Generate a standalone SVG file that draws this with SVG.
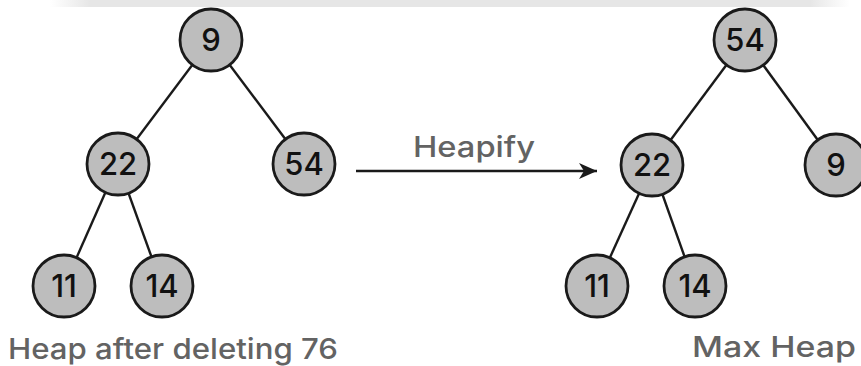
<svg xmlns="http://www.w3.org/2000/svg" width="861" height="366" viewBox="0 0 861 366">
  <style>
    .node circle { fill: #bdbdbd; stroke: #1a1a1a; stroke-width: 2.8; }
    .node text { font-family: Inter, "Open Sans", "Liberation Sans", sans-serif; font-weight: 500; font-size: 31px; fill: #111; text-anchor: middle; }
    .edge { stroke: #1a1a1a; stroke-width: 2.4; fill: none; }
    .label { font-family: Inter, "Open Sans", "Liberation Sans", sans-serif; font-weight: 500; font-size: 29px; fill: #636363; }
  </style>
  <defs>
    <marker id="arrowhead" markerWidth="18" markerHeight="16" refX="18" refY="8" orient="auto" markerUnits="userSpaceOnUse" viewBox="0 0 18 16">
      <path d="M0,0 L18,8 L0,16 L5,8 Z" fill="#1a1a1a"/>
    </marker>
    <linearGradient id="band" x1="0" y1="0" x2="1" y2="0">
      <stop offset="0" stop-color="#e8e8e8" stop-opacity="0"/>
      <stop offset="0.05" stop-color="#e6e6e6"/>
      <stop offset="0.95" stop-color="#e6e6e6"/>
      <stop offset="1" stop-color="#e8e8e8" stop-opacity="0"/>
    </linearGradient>
  </defs>
  <rect width="861" height="366" fill="#ffffff"/>
  <rect x="50" y="0" width="800" height="7" fill="url(#band)"/>

  <!-- tree edges and the heapify arrow -->
  <g id="connectors">
    <line class="edge" x1="211" y1="40" x2="118" y2="164"/>
    <line class="edge" x1="211" y1="40" x2="304" y2="164"/>
    <line class="edge" x1="118" y1="164" x2="64" y2="286"/>
    <line class="edge" x1="118" y1="164" x2="162" y2="286"/>
    <line class="edge" x1="745" y1="40" x2="652" y2="165"/>
    <line class="edge" x1="745" y1="40" x2="836" y2="165"/>
    <line class="edge" x1="652" y1="165" x2="597" y2="286"/>
    <line class="edge" x1="652" y1="165" x2="695" y2="286"/>
    <line class="edge" x1="356" y1="171" x2="597" y2="171" stroke-width="2.8" marker-end="url(#arrowhead)"/>
  </g>

  <!-- heap after deletion -->
  <g id="l9" class="node"><circle cx="211" cy="40" r="31"/><text x="211" y="51">9</text></g>
  <g id="l22" class="node"><circle cx="118" cy="164" r="31"/><text x="118" y="175">22</text></g>
  <g id="l54" class="node"><circle cx="304" cy="164" r="31"/><text x="304" y="175">54</text></g>
  <g id="l11" class="node"><circle cx="64" cy="286" r="31"/><text x="64" y="297">11</text></g>
  <g id="l14" class="node"><circle cx="162" cy="286" r="31"/><text x="162" y="297">14</text></g>

  <!-- max heap -->
  <g id="r54" class="node"><circle cx="745" cy="40" r="31"/><text x="745" y="51">54</text></g>
  <g id="r22" class="node"><circle cx="652" cy="165" r="31"/><text x="652" y="176">22</text></g>
  <g id="r9" class="node"><circle cx="836" cy="165" r="31"/><text x="836" y="176">9</text></g>
  <g id="r11" class="node"><circle cx="597" cy="286" r="31"/><text x="597" y="297">11</text></g>
  <g id="r14" class="node"><circle cx="695" cy="286" r="31"/><text x="695" y="297">14</text></g>

  <text class="label" x="413" y="157" textLength="122" lengthAdjust="spacingAndGlyphs">Heapify</text>
  <text class="label" x="8" y="359" textLength="330" lengthAdjust="spacingAndGlyphs">Heap after deleting 76</text>
  <text class="label" x="692" y="357" textLength="164" lengthAdjust="spacingAndGlyphs">Max Heap</text>
</svg>
